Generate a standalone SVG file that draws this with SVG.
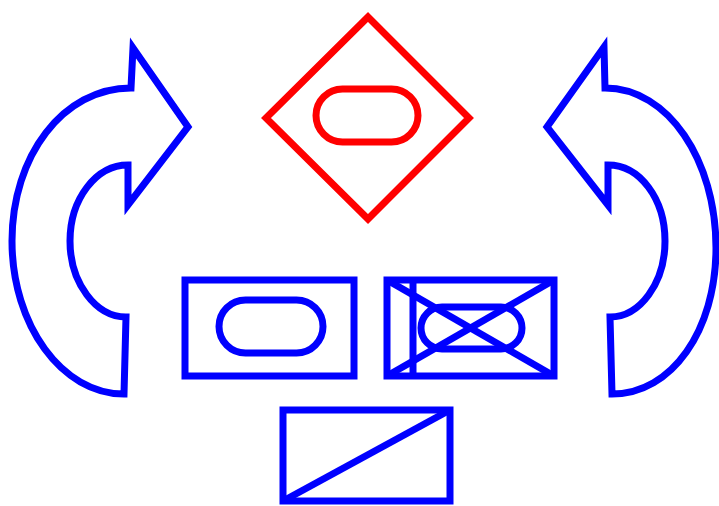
<svg xmlns="http://www.w3.org/2000/svg" width="719" height="506" viewBox="0 0 719 506">
<style>
.b{fill:none;stroke:#0000ff;stroke-width:7}
.r{fill:none;stroke:#ff0000;stroke-width:7}
</style>
<rect width="719" height="506" fill="#ffffff"/>
<g id="arrow-left">
<path class="b" d="M131,88 L133,48 L188,127 L128,205 L128,165 C96,165 70,199 70,241 C70,283 96,317 126,317 L124,394 C62,394 12,325 12,241 C12,156 63,88 131,88 Z"/>
</g>
<g id="arrow-right">
<path class="b" d="M605,88 L604,47 L547,127 L608,205 L608,165 C640,165 665,199 665,241 C665,283 640,317 610,317 L612,394 C672,394 716,330 716,248 C716,160 668,88 605,88 Z"/>
</g>
<g id="diamond">
<path class="r" d="M368,17 L469,118 L368,219 L266,118 Z"/>
<rect class="r" x="316" y="89" width="102" height="53" rx="26.5"/>
</g>
<g id="box-left">
<rect class="b" x="185" y="280" width="169" height="96"/>
<rect class="b" x="219" y="300" width="104" height="53" rx="26.5"/>
</g>
<g id="box-right">
<rect class="b" x="387" y="280" width="167" height="96"/>
<rect class="b" x="421" y="307" width="101" height="42" rx="21"/>
<line class="b" x1="413" y1="280" x2="413" y2="376"/>
<line class="b" x1="387" y1="280" x2="554" y2="376"/>
<line class="b" x1="554" y1="280" x2="387" y2="376"/>
</g>
<g id="box-bottom">
<rect class="b" x="283" y="410" width="167" height="91"/>
<line class="b" x1="283" y1="501" x2="450" y2="410"/>
</g>
<g id="connectors"></g>
</svg>
